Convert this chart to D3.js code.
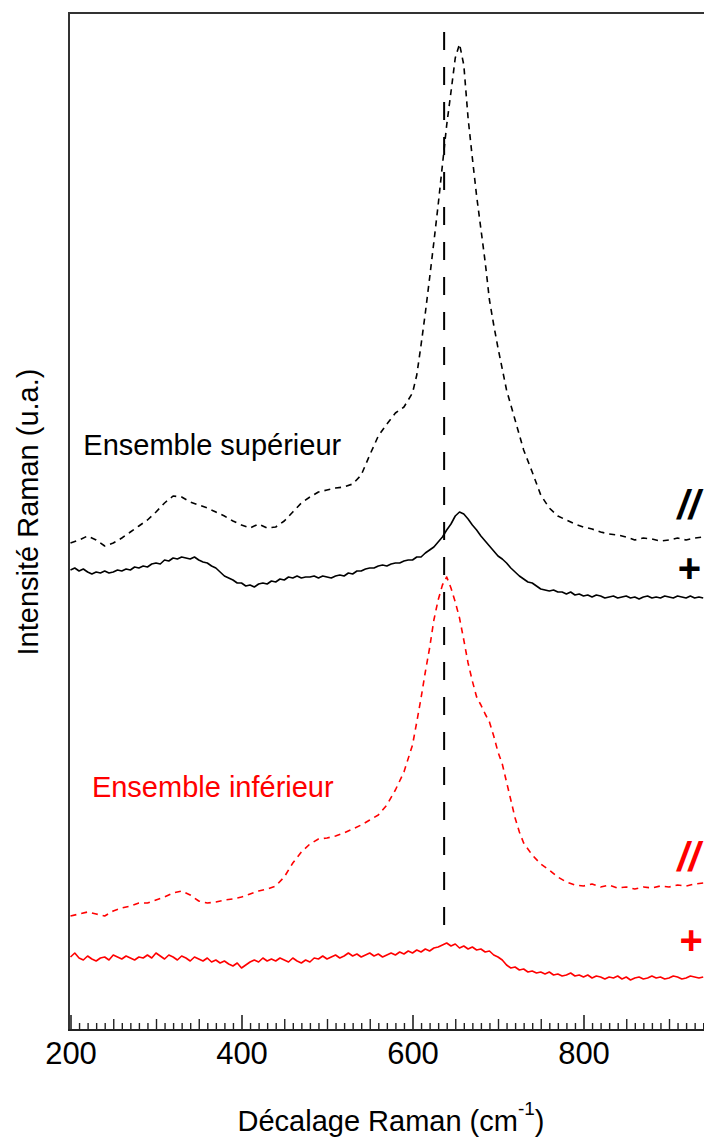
<!DOCTYPE html>
<html><head><meta charset="utf-8">
<script src="https://cdn.jsdelivr.net/npm/d3@7"></script>
<style>
body{margin:0;background:#fff}
svg{display:block}
text{font-family:"Liberation Sans",Arial,Helvetica,sans-serif}
</style>
</head><body>
<svg id="chart" width="704" height="1138"></svg>
<script>
// ---- data: [wavenumber (cm-1), intensity (u.a.)] ----
const blackDashed = [[200,487],[210,490],[220,494],[230,490],[240,484],[250,487],[260,492],[270,498],[280,504],[290,510],[300,518],[310,527],[320,534],[330,533],[340,528],[350,525],[360,522],[370,518],[380,514],[390,509],[400,505],[410,502],[420,506],[430,502],[440,503],[450,509],[460,518],[470,527],[480,533],[490,538],[500,540],[510,542],[520,543],[530,546],[540,555],[550,575],[560,594],[570,606],[580,617],[590,623],[600,637],[605,655],[610,685],[615,717],[620,752],[625,788],[630,825],[635,865],[640,905],[645,938],[650,972],[655,986],[660,965],[665,912],[670,872],[675,834],[680,801],[685,768],[690,730],[695,705],[700,682],[710,640],[720,610],[730,580],[740,558],[750,535],[760,522],[770,514],[780,510],[790,506],[800,503],[810,501],[820,498],[830,496],[840,495],[850,493],[860,490],[870,492],[880,491],[890,489],[900,490],[910,492],[920,490],[930,492],[940,493]];

const blackSolid = [[200,460],[205,462],[210,459],[215,461],[220,458],[225,456],[230,458],[235,457],[240,459],[245,457],[250,458],[255,460],[260,459],[265,461],[270,460],[275,463],[280,462],[285,464],[290,463],[295,466],[300,467],[305,466],[310,470],[315,469],[320,472],[325,471],[330,473],[335,472],[340,471],[345,473],[350,470],[355,468],[360,467],[365,464],[370,462],[375,458],[380,454],[385,452],[390,450],[395,447],[400,447],[405,444],[410,445],[415,443],[420,446],[425,447],[430,446],[435,449],[440,448],[445,451],[450,450],[455,453],[460,452],[465,454],[470,452],[475,453],[480,453],[485,454],[490,452],[495,454],[500,453],[505,452],[510,454],[515,455],[520,454],[525,457],[530,456],[535,459],[540,459],[545,461],[550,462],[555,462],[560,464],[565,465],[570,464],[575,466],[580,467],[585,467],[590,469],[595,470],[600,470],[605,473],[610,473],[615,477],[620,480],[625,483],[630,488],[635,493],[640,500],[645,506],[650,514],[655,518],[660,516],[665,511],[670,505],[675,500],[680,494],[685,489],[690,484],[695,479],[700,474],[705,471],[710,467],[715,462],[720,458],[725,454],[730,451],[735,448],[740,447],[745,444],[750,441],[755,440],[760,439],[765,440],[770,438],[775,438],[780,436],[785,438],[790,435],[795,436],[800,434],[805,435],[810,433],[815,435],[820,434],[825,432],[830,433],[835,434],[840,432],[845,433],[850,434],[855,432],[860,433],[865,431],[870,433],[875,434],[880,432],[885,433],[890,432],[895,434],[900,433],[905,432],[910,434],[915,433],[920,432],[925,434],[930,432],[935,433],[940,432]];

const redDashed = [[200,114],[210,116],[220,118],[230,116],[240,114],[250,119],[260,122],[270,124],[280,127],[290,127],[300,130],[310,133],[320,137],[330,139],[340,135],[350,129],[360,127],[370,128],[380,130],[390,131],[400,133],[410,136],[420,139],[430,141],[440,144],[450,153],[460,167],[470,178],[480,186],[490,191],[500,192],[510,194],[520,197],[530,201],[540,205],[550,210],[560,215],[570,225],[580,240],[590,258],[600,285],[605,308],[610,332],[615,358],[620,382],[625,410],[630,430],[635,445],[640,453],[645,442],[650,428],[655,412],[660,390],[665,367],[670,349],[675,333],[680,325],[685,316],[690,308],[695,294],[700,278],[705,266],[710,248],[715,230],[720,212],[725,198],[730,187],[740,175],[750,166],[760,160],[770,153],[780,148],[790,145],[800,144],[810,146],[820,143],[830,145],[840,142],[850,143],[860,141],[870,143],[880,142],[890,144],[900,143],[910,145],[920,144],[930,146],[940,147]];

const redSolid = [[200,73],[205,77],[210,72],[215,70],[220,74],[225,71],[230,69],[235,72],[240,73],[245,70],[250,75],[255,73],[260,71],[265,74],[270,72],[275,70],[280,73],[285,72],[290,75],[295,72],[300,77],[305,74],[310,71],[315,75],[320,73],[325,70],[330,74],[335,72],[340,69],[345,73],[350,71],[355,69],[360,72],[365,68],[370,70],[375,67],[380,69],[385,66],[390,64],[395,67],[400,62],[405,65],[410,68],[415,70],[420,68],[425,72],[430,69],[435,71],[440,69],[445,72],[450,70],[455,68],[460,72],[465,69],[470,67],[475,70],[480,68],[485,72],[490,71],[495,74],[500,71],[505,73],[510,75],[515,72],[520,74],[525,77],[530,74],[535,76],[540,73],[545,75],[550,77],[555,74],[560,76],[565,73],[570,75],[575,77],[580,75],[585,78],[590,76],[595,79],[600,77],[605,80],[610,78],[615,81],[620,79],[625,82],[630,83],[635,85],[640,87],[645,84],[650,86],[655,82],[660,84],[665,81],[670,83],[675,80],[680,81],[685,78],[690,79],[695,75],[700,73],[705,70],[710,65],[715,62],[720,63],[725,60],[730,61],[735,58],[740,59],[745,57],[750,58],[755,56],[760,58],[765,55],[770,56],[775,54],[780,55],[785,57],[790,54],[795,55],[800,53],[805,55],[810,52],[815,54],[820,53],[825,51],[830,53],[835,52],[840,54],[845,51],[850,53],[855,50],[860,52],[865,53],[870,51],[875,52],[880,54],[885,52],[890,53],[895,51],[900,52],[905,54],[910,53],[915,51],[920,52],[925,54],[930,53],[935,52],[940,53]];

const refLine = {wavenumber: 637, from: 95, to: 1010};

const majorTicks = [200, 400, 600, 800, 1000];
const labelTicks = [200, 400, 600, 800];
const tickLabels = ["200", "400", "600", "800"];
const mediumTicks = [250, 300, 350, 450, 500, 550, 650, 700, 750, 850, 900, 950];
const minorTicks = [210,220,230,240,260,270,280,290,310,320,330,340,360,370,380,390,410,420,430,440,460,470,480,490,510,520,530,540,560,570,580,590,610,620,630,640,660,670,680,690,710,720,730,740,760,770,780,790,810,820,830,840,860,870,880,890,910,920,930,940,960,970,980,990];

const xTitle = "Décalage Raman (cm";
const xTitleSup = "-1";
const yTitle = "Intensité Raman (u.a.)";

// ---- drawing ----
const svg = d3.select("#chart");
const x = d3.scaleLinear().domain([200, 1000]).range([70.5, 754.5]);
const y = d3.scaleLinear().domain([0, 1017]).range([1030, 13]);

const frame = svg.append("g");
frame.append("line").attr("x1", 69).attr("x2", 760).attr("y1", 13).attr("y2", 13)
  .attr("stroke", "#333").attr("stroke-width", 2);
frame.append("line").attr("x1", 69).attr("x2", 69).attr("y1", 12).attr("y2", 1031)
  .attr("stroke", "#333").attr("stroke-width", 2);

function tickAxis(values, size, width) {
  const ax = d3.axisBottom(x).tickValues(values).tickSize(-size).tickFormat("");
  const g = svg.append("g").attr("transform", "translate(0,1030)").call(ax);
  g.select(".domain").remove();
  g.selectAll(".tick line").attr("stroke", "#222").attr("stroke-width", width);
  return g;
}
tickAxis(minorTicks, 7, 1.4);
tickAxis(mediumTicks, 11, 1.4);
tickAxis(majorTicks, 15, 1.6);

const labelAxis = d3.axisBottom(x).tickValues(labelTicks).tickSize(0)
  .tickFormat((d, i) => tickLabels[i]).tickPadding(12);
const lg = svg.append("g").attr("transform", "translate(0,1030)").call(labelAxis);
lg.select(".domain").remove();
lg.selectAll(".tick text").attr("font-size", 31).attr("fill", "#000")
  .attr("font-family", "'Liberation Sans', Arial, sans-serif");

svg.append("line").attr("x1", 68).attr("x2", 760).attr("y1", 1030).attr("y2", 1030)
  .attr("stroke", "#222").attr("stroke-width", 2);

// reference dashed line
svg.append("line")
  .attr("x1", x(refLine.wavenumber)).attr("x2", x(refLine.wavenumber))
  .attr("y1", y(refLine.to)).attr("y2", y(refLine.from))
  .attr("stroke", "#000").attr("stroke-width", 2)
  .attr("stroke-dasharray", "18,17").attr("stroke-dashoffset", 23);

const line = d3.line().x(d => x(d[0])).y(d => y(d[1]));
const series = [
  {data: blackDashed, color: "#000", dash: "6,5"},
  {data: blackSolid, color: "#000", dash: null},
  {data: redDashed, color: "#ff0000", dash: "6,5"},
  {data: redSolid, color: "#ff0000", dash: null}
];
series.forEach(s => {
  svg.append("path").datum(s.data).attr("d", line)
    .attr("fill", "none").attr("stroke", s.color).attr("stroke-width", 1.6)
    .attr("stroke-linejoin", "round")
    .attr("stroke-dasharray", s.dash);
});

// annotations
svg.append("text").attr("x", x(215)).attr("y", y(575)).attr("font-size", 29)
  .attr("fill", "#000").text("Ensemble supérieur");
svg.append("text").attr("x", x(225)).attr("y", y(233)).attr("font-size", 29)
  .attr("fill", "#ff0000").text("Ensemble inférieur");
svg.append("text").attr("x", x(910)).attr("y", y(511)).attr("font-size", 40)
  .attr("font-weight", "bold").attr("font-style", "italic").attr("fill", "#000").text("//");
svg.append("text").attr("x", x(924)).attr("y", y(448)).attr("font-size", 40)
  .attr("font-weight", "bold").attr("text-anchor", "middle").attr("fill", "#000").text("+");
svg.append("text").attr("x", x(910)).attr("y", y(159)).attr("font-size", 40)
  .attr("font-weight", "bold").attr("font-style", "italic").attr("fill", "#ff0000").text("//");
svg.append("text").attr("x", x(926)).attr("y", y(76)).attr("font-size", 40)
  .attr("font-weight", "bold").attr("text-anchor", "middle").attr("fill", "#ff0000").text("+");

// axis titles
const xt = svg.append("text").attr("x", 391).attr("y", 1131).attr("font-size", 29)
  .attr("text-anchor", "middle").attr("fill", "#000");
xt.append("tspan").text(xTitle);
xt.append("tspan").attr("font-size", 19).attr("dy", -16).text(xTitleSup);
xt.append("tspan").attr("dy", 16).text(")");

svg.append("text").attr("transform", "translate(38,512) rotate(-90)")
  .attr("font-size", 29).attr("text-anchor", "middle").attr("fill", "#000")
  .text(yTitle);
</script>
</body></html>
